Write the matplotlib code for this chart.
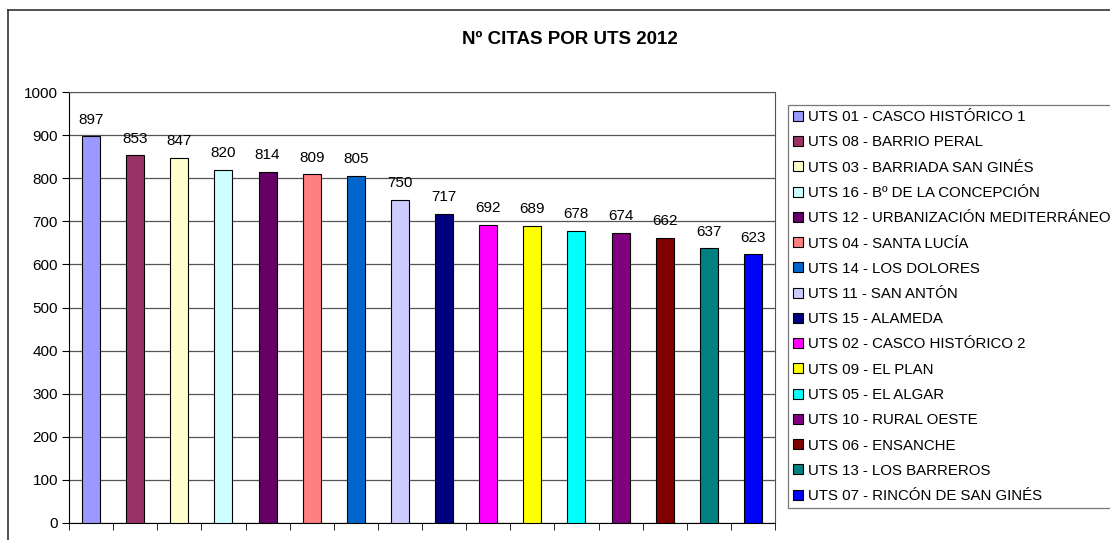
import matplotlib.pyplot as plt
from matplotlib.patches import Patch
from matplotlib.lines import Line2D

plt.rcParams['font.family'] = ['Liberation Sans', 'DejaVu Sans']

# data
zonas = ['UTS 01 - CASCO HISTÓRICO 1', 'UTS 08 - BARRIO PERAL',
         'UTS 03 - BARRIADA SAN GINÉS', 'UTS 16 - Bº DE LA CONCEPCIÓN',
         'UTS 12 - URBANIZACIÓN MEDITERRÁNEO', 'UTS 04 - SANTA LUCÍA',
         'UTS 14 - LOS DOLORES', 'UTS 11 - SAN ANTÓN', 'UTS 15 - ALAMEDA',
         'UTS 02 - CASCO HISTÓRICO 2', 'UTS 09 - EL PLAN', 'UTS 05 - EL ALGAR',
         'UTS 10 - RURAL OESTE', 'UTS 06 - ENSANCHE', 'UTS 13 - LOS BARREROS',
         'UTS 07 - RINCÓN DE SAN GINÉS']
citas = [897, 853, 847, 820, 814, 809, 805, 750, 717, 692, 689, 678, 674, 662, 637, 623]
colores = ['#9999FF', '#993366', '#FFFFCC', '#CCFFFF', '#660066', '#FF8080',
           '#0066CC', '#CCCCFF', '#000080', '#FF00FF', '#FFFF00', '#00FFFF',
           '#800080', '#800000', '#008080', '#0000FF']
y_ticks = [0, 100, 200, 300, 400, 500, 600, 700, 800, 900, 1000]

fig = plt.figure(figsize=(11.1, 5.4), dpi=100)
ax = fig.add_axes([69 / 1110, 1 - 523 / 540, 706 / 1110, 431 / 540])

x = list(range(len(citas)))
ax.bar(x, citas, width=0.41, color=colores, edgecolor='black', linewidth=0.8, zorder=3)
for xi, v in zip(x, citas):
    ax.annotate(str(v), (xi, v), xytext=(0, 7), textcoords='offset points',
                ha='center', va='bottom', fontsize=11)

ax.set_xlim(-0.5, len(citas) - 0.5)
ax.set_ylim(0, 1000)
ax.set_yticks(y_ticks)
ax.tick_params(axis='y', labelsize=11, length=5, direction='out', pad=3)
ax.set_xticks([])
ax.set_xticks([i - 0.5 for i in range(len(citas) + 1)], minor=True)
ax.tick_params(axis='x', which='minor', length=5, direction='out')
ax.yaxis.grid(True, color='#555555', linewidth=0.9, zorder=0)
ax.set_axisbelow(True)
for s in ['top', 'right']:
    ax.spines[s].set_color('#555555')
ax.spines['left'].set_color('black')
ax.spines['bottom'].set_color('black')

fig.text(570 / 1110, 1 - 40 / 540, 'Nº CITAS POR UTS 2012', ha='center', va='center',
         fontsize=13.5, fontweight='bold')

handles = [Patch(facecolor=c, edgecolor='black', linewidth=0.8) for c in colores]
leg = fig.legend(handles, zonas, loc='upper left',
                 bbox_to_anchor=(788 / 1110, 1 - 105 / 540), fontsize=10.8,
                 frameon=True, fancybox=False, handlelength=0.65, handleheight=0.65,
                 handletextpad=0.3, labelspacing=0.75, borderpad=0.35, borderaxespad=0)
leg.get_frame().set_edgecolor('#555555')
leg.get_frame().set_linewidth(0.9)

# outer chart frame
fig.add_artist(Line2D([8 / 1110, 8 / 1110], [0, 1 - 10 / 540], color='#333333', lw=1.2))
fig.add_artist(Line2D([8 / 1110, 1], [1 - 10 / 540, 1 - 10 / 540], color='#333333', lw=1.2))

fig.savefig('out.png', dpi=100)
